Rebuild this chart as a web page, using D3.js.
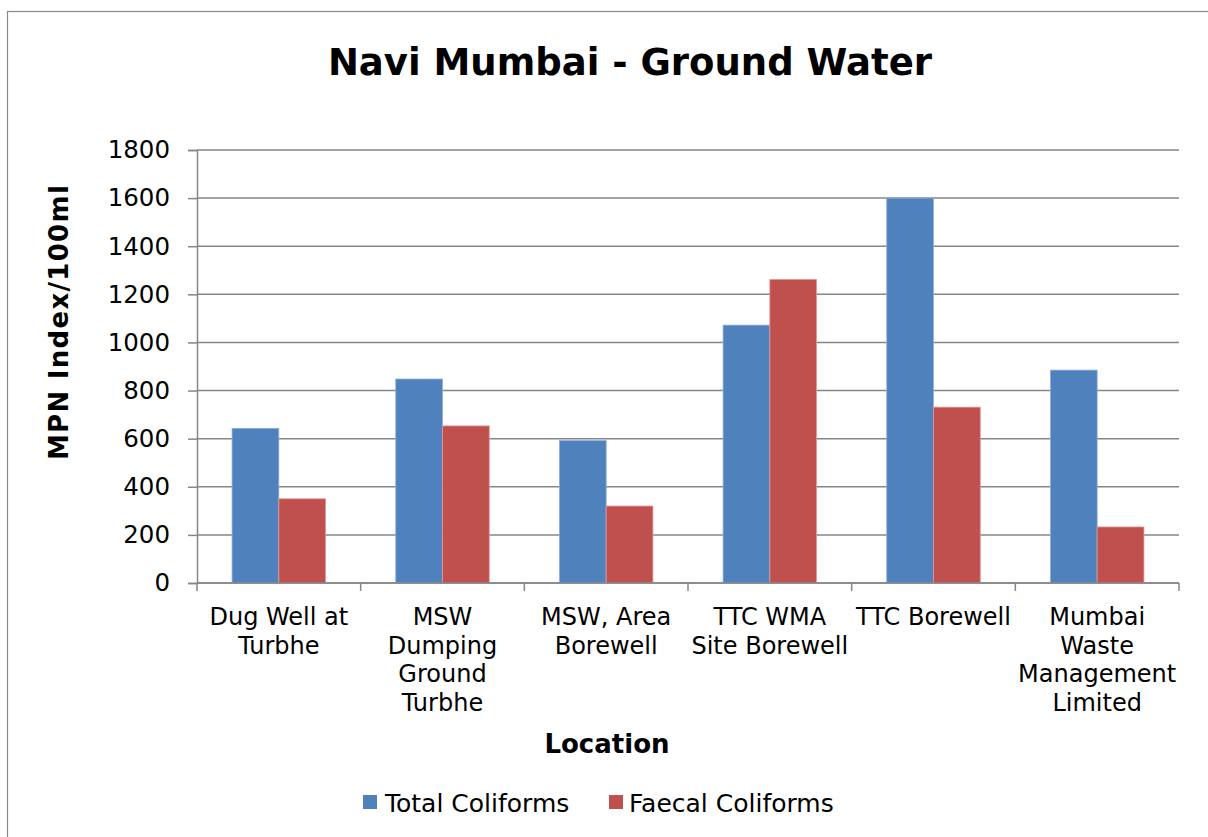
<!DOCTYPE html>
<html>
<head>
<meta charset="utf-8">
<script src="https://cdn.jsdelivr.net/npm/d3@7"></script>
<style>
  html, body { margin: 0; padding: 0; background: #fff; }
  svg { display: block; font-family: "DejaVu Sans", Verdana, sans-serif; }
</style>
</head>
<body>
<svg id="chart" width="1208" height="837"></svg>
<script>
const categories = [
  ["Dug Well at", "Turbhe"],
  ["MSW", "Dumping", "Ground", "Turbhe"],
  ["MSW, Area", "Borewell"],
  ["TTC WMA", "Site Borewell"],
  ["TTC Borewell"],
  ["Mumbai", "Waste", "Management", "Limited"]
];
const seriesNames = ["Total Coliforms", "Faecal Coliforms"];
const totalColiforms = [643, 848, 592, 1072, 1600, 885];
const faecalColiforms = [350, 653, 320, 1262, 731, 233];
const yTicks = [0, 200, 400, 600, 800, 1000, 1200, 1400, 1600, 1800];
const colors = ["#4F81BD", "#C0504D"];

const svg = d3.select("#chart");
const plot = { left: 197, right: 1179, top: 150, bottom: 583 };

// outer chart border
svg.append("rect")
  .attr("x", 7.5).attr("y", 11.5)
  .attr("width", 1220).attr("height", 840)
  .attr("fill", "#fff").attr("stroke", "#888").attr("stroke-width", 1.2);

const catIdx = categories.map((c, i) => i);
const x0 = d3.scaleBand().domain(catIdx).range([plot.left, plot.right]).padding(0);
const bw = x0.bandwidth();
const x1 = d3.scaleBand().domain([0, 1]).range([bw * 0.75 / 3.5, bw * 2.75 / 3.5]).padding(0);
const y = d3.scaleLinear().domain([0, 1800]).range([plot.bottom, plot.top]);

// gridlines
svg.append("g").selectAll("line").data(yTicks).join("line")
  .attr("x1", plot.left).attr("x2", plot.right)
  .attr("y1", d => y(d)).attr("y2", d => y(d))
  .attr("stroke", "#868686").attr("stroke-width", 1.5);

// y axis
const yAxis = d3.axisLeft(y).tickValues(yTicks).tickSize(9).tickPadding(18).tickFormat(d3.format("d"));
const gy = svg.append("g").attr("transform", `translate(${plot.left},0)`).call(yAxis);
gy.select(".domain").attr("stroke", "#868686").attr("stroke-width", 1.5);
gy.selectAll(".tick line").attr("stroke", "#868686").attr("stroke-width", 1.5);
gy.selectAll(".tick text").attr("font-size", "24.5px").attr("fill", "#000")
  .attr("font-family", "DejaVu Sans, Verdana, sans-serif");

// bars
const data = catIdx.map(i => [totalColiforms[i], faecalColiforms[i]]);
const groups = svg.append("g").selectAll("g").data(data).join("g")
  .attr("transform", (d, i) => `translate(${x0(i)},0)`);
groups.selectAll("rect").data(d => d.map((v, s) => ({ v, s }))).join("rect")
  .attr("x", d => x1(d.s))
  .attr("width", x1.bandwidth())
  .attr("y", d => y(d.v))
  .attr("height", d => y(0) - y(d.v))
  .attr("fill", d => colors[d.s])
  .attr("stroke", d => d.s === 0 ? "#8fb0dc" : "#e09a98")
  .attr("stroke-width", 0.8);

// x axis
const xEdges = d3.range(categories.length + 1).map(i => plot.left + i * bw);
svg.append("line")
  .attr("x1", plot.left).attr("x2", plot.right)
  .attr("y1", plot.bottom).attr("y2", plot.bottom)
  .attr("stroke", "#868686").attr("stroke-width", 1.5);
svg.append("g").selectAll("line").data(xEdges).join("line")
  .attr("x1", d => d).attr("x2", d => d)
  .attr("y1", plot.bottom).attr("y2", plot.bottom + 8)
  .attr("stroke", "#868686").attr("stroke-width", 1.5);

// category labels
const lab = svg.append("g").attr("font-size", "24px").attr("fill", "#000").attr("text-anchor", "middle");
categories.forEach((lines, i) => {
  const t = lab.append("text").attr("x", x0(i) + bw / 2).attr("y", 625);
  lines.forEach((ln, k) => {
    t.append("tspan").attr("x", x0(i) + bw / 2).attr("y", 625 + k * 28.5).text(ln);
  });
});

// title
svg.append("text").attr("x", 630).attr("y", 75).attr("text-anchor", "middle")
  .attr("font-size", "37px").attr("font-weight", "bold").text("Navi Mumbai - Ground Water");

// axis titles
svg.append("text").attr("x", 607).attr("y", 753).attr("text-anchor", "middle")
  .attr("font-size", "26px").attr("font-weight", "bold").text("Location");
svg.append("text").attr("transform", "translate(68,322) rotate(-90)").attr("text-anchor", "middle")
  .attr("font-size", "26px").attr("font-weight", "bold").attr("letter-spacing", "1.3px")
  .text("MPN Index/100ml");

// legend
const legendItems = [{ x: 363, tx: 385 }, { x: 609, tx: 629 }];
const lg = svg.append("g");
seriesNames.forEach((name, s) => {
  lg.append("rect").attr("x", legendItems[s].x).attr("y", 795).attr("width", 14).attr("height", 14)
    .attr("fill", colors[s]);
  lg.append("text").attr("x", legendItems[s].tx).attr("y", 812).attr("font-size", "25px").text(name);
});
</script>
</body>
</html>
